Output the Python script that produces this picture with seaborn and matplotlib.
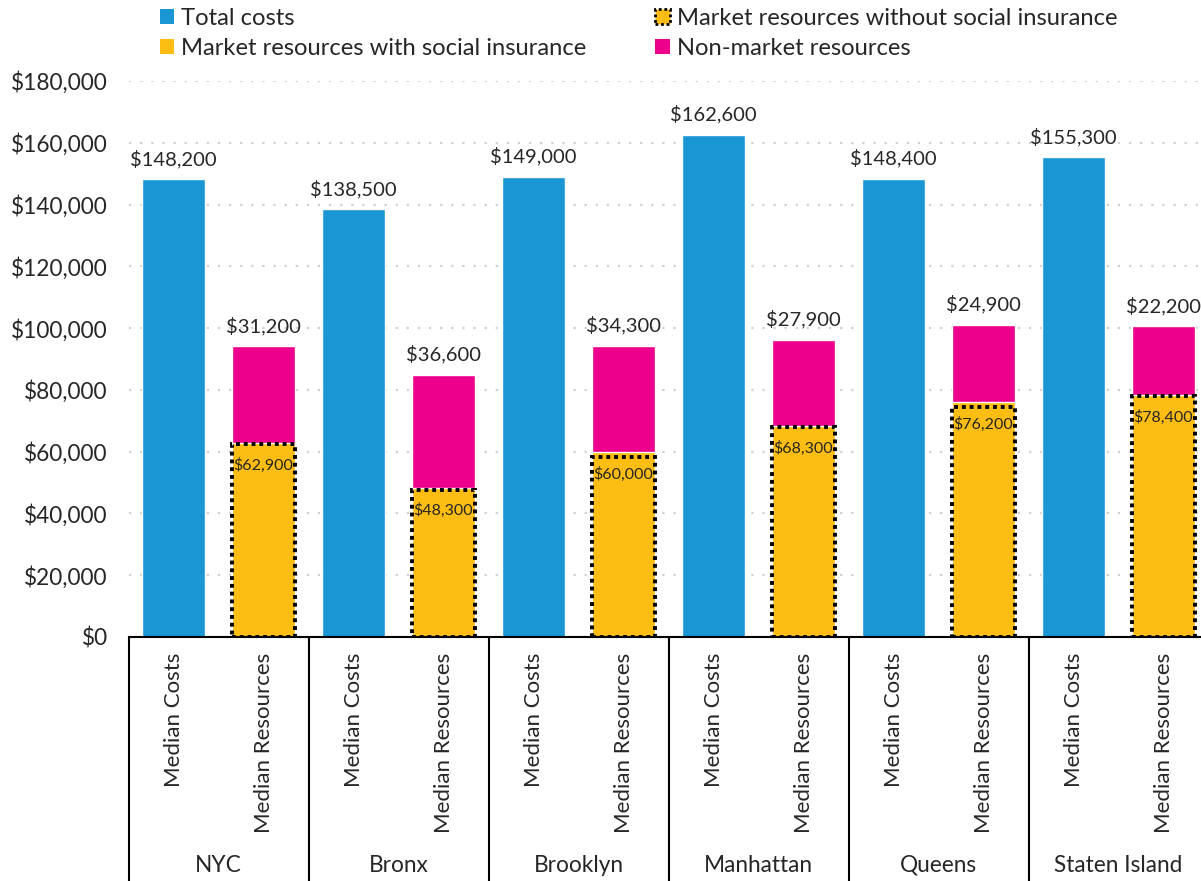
import matplotlib
matplotlib.use("Agg")
import matplotlib.pyplot as plt
import matplotlib.transforms as mtransforms
from matplotlib.patches import Patch
from matplotlib.ticker import FuncFormatter
import numpy as np
import pandas as pd
import seaborn as sns

# --- data -------------------------------------------------------------
boroughs = ["NYC", "Bronx", "Brooklyn", "Manhattan", "Queens", "Staten Island"]
bar_kinds = ["Median Costs", "Median Resources"]
total_costs = [148200, 138500, 149000, 162600, 148400, 155300]
market_with_si = [62900, 48300, 60000, 68300, 76200, 78400]
market_without_si = [62400, 47600, 58400, 68000, 74600, 78100]
non_market = [31200, 36600, 34300, 27900, 24900, 22200]
y_ticks = list(range(0, 180001, 20000))

BLUE = "#1996D3"
YELLOW = "#FDBD13"
PINK = "#EC008C"

sns.set_style("white")
plt.rcParams["font.family"] = ["Lato", "DejaVu Sans"]

slots = [f"{b}|{k}" for b in boroughs for k in bar_kinds]
costs_df = pd.DataFrame({
    "slot": [f"{b}|Median Costs" for b in boroughs],
    "value": total_costs,
})
res_df = pd.DataFrame({
    "slot": [f"{b}|Median Resources" for b in boroughs],
    "with_si": market_with_si,
    "without_si": market_without_si,
    "non_market": non_market,
})
res_df["stack_top"] = res_df["with_si"] + res_df["non_market"]

fig = plt.figure(figsize=(12.01, 8.81), dpi=100)
W, H = 1201, 881
ax_left, ax_right = 128.5, 1208.5
ax_top, ax_bottom = 81, 637
ax = fig.add_axes([ax_left / W, (H - ax_bottom) / H,
                   (ax_right - ax_left) / W, (ax_bottom - ax_top) / H])

bw = 0.71
common = dict(x="slot", order=slots, width=bw, saturation=1,
              errorbar=None, ax=ax)
sns.barplot(data=costs_df, y="value", color=BLUE, **common)
# non-market stacked on top of market resources (drawn as full stack height)
sns.barplot(data=res_df, y="stack_top", color=PINK, **common)
sns.barplot(data=res_df, y="with_si", color=YELLOW, **common)
sns.barplot(data=res_df, y="without_si", color="black", fill=False,
            linewidth=2.8, linestyle=(0, (1, 1)), **common)

ax.set_xlim(-0.5, len(slots) - 0.5)
ax.set_ylim(0, 180000)
ax.set_yticks(y_ticks)
ax.yaxis.set_major_formatter(FuncFormatter(lambda v, p: f"${v:,.0f}"))
ax.tick_params(axis="y", length=0, pad=15, labelsize=16.3)
ax.set_axisbelow(True)
ax.yaxis.grid(True, color="#D0D0D0", linestyle=(0, (1, 4)), linewidth=1.6)
ax.xaxis.grid(False)
for s in ("top", "right", "left"):
    ax.spines[s].set_visible(False)
ax.spines["bottom"].set_color("black")
ax.spines["bottom"].set_linewidth(1.5)
ax.set_xlabel("")
ax.set_ylabel("")

# first-level category labels
ax.set_xticks(range(len(slots)))
ax.set_xticklabels([s.split("|")[1] for s in slots], rotation=90,
                   fontsize=16)
ax.tick_params(axis="x", length=0, pad=11)

# group separators and borough names
trans = mtransforms.blended_transform_factory(ax.transData, ax.transAxes)
depth = (H - ax_bottom) / (ax_bottom - ax_top)
for i in range(len(boroughs) + 1):
    ax.plot([2 * i - 0.5, 2 * i - 0.5], [0, -depth], transform=trans,
            color="black", linewidth=1.5, clip_on=False)
group_y = -(865 - ax_bottom) / (ax_bottom - ax_top)
for i, b in enumerate(boroughs):
    ax.text(2 * i + 0.5, group_y, b, transform=trans, ha="center",
            va="center", fontsize=16.3)

# value labels
for i, v in enumerate(total_costs):
    ax.annotate(f"${v:,.0f}", (2 * i, v), xytext=(0, 8),
                textcoords="offset points", ha="center", va="bottom",
                fontsize=14.5)
for i in range(len(boroughs)):
    top = market_with_si[i] + non_market[i]
    ax.annotate(f"${non_market[i]:,.0f}", (2 * i + 1, top), xytext=(0, 8),
                textcoords="offset points", ha="center", va="bottom",
                fontsize=14.5)
    ax.annotate(f"${market_with_si[i]:,.0f}", (2 * i + 1, market_with_si[i]),
                xytext=(0, -16), textcoords="offset points", ha="center",
                va="center", fontsize=11.5)

# legend
handles = [
    Patch(facecolor=BLUE, edgecolor="none", label="Total costs"),
    Patch(facecolor=YELLOW, edgecolor="none",
          label="Market resources with social insurance"),
    Patch(facecolor=YELLOW, edgecolor="black", linestyle=(0, (1, 1)),
          linewidth=2, label="Market resources without social insurance"),
    Patch(facecolor=PINK, edgecolor="none", label="Non-market resources"),
]
fig.legend(handles=handles, ncol=2, loc="upper left",
           bbox_to_anchor=(155 / W, 1 - 3 / H), frameon=False, fontsize=17.1,
           handlelength=0.6, handleheight=0.6, handletextpad=0.3,
           columnspacing=2.9, labelspacing=0.38, borderpad=0.2,
           borderaxespad=0)

fig.savefig("out.png", dpi=100)
